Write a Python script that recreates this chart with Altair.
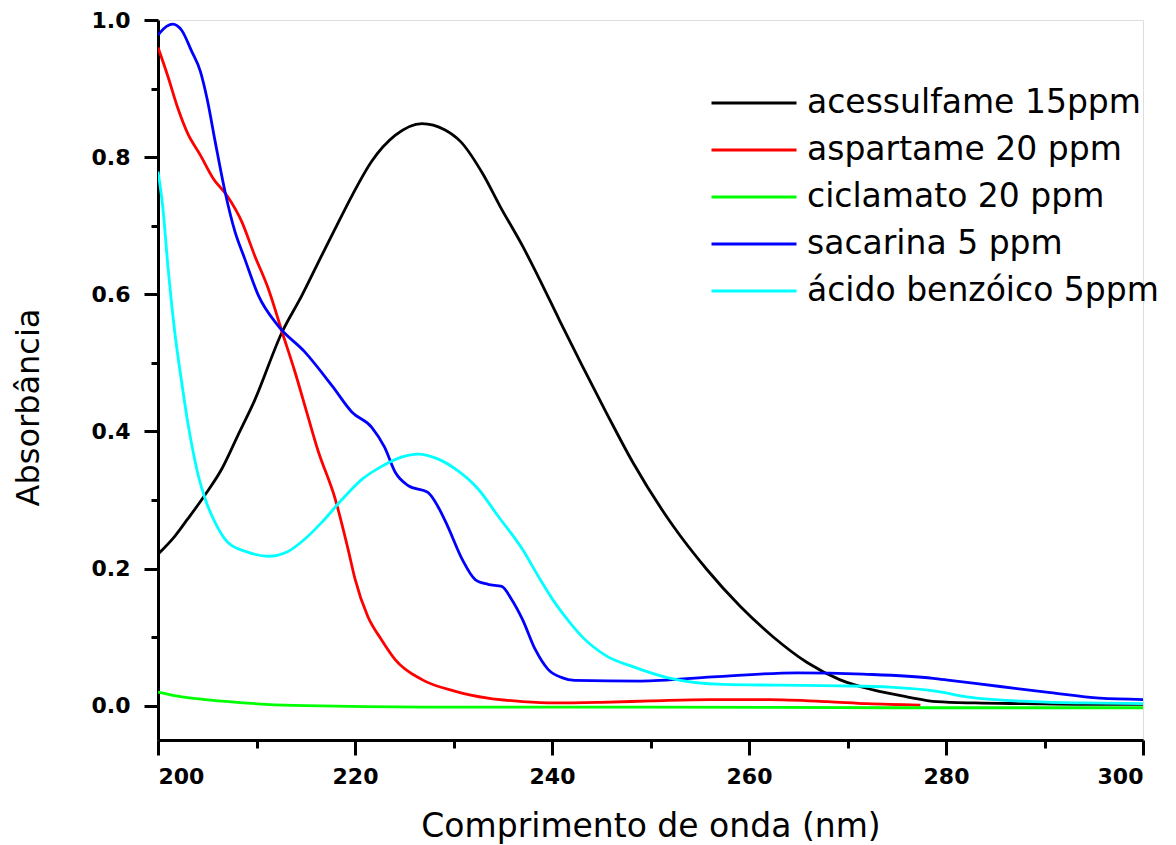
import altair as alt
import pandas as pd

# ---- data ----
names = ["acessulfame 15ppm", "aspartame 20 ppm", "ciclamato 20 ppm",
         "sacarina 5 ppm", "ácido benzóico 5ppm"]
colors = ["#000000", "#ff0000", "#00ff00", "#0000ff", "#00ffff"]

acess_x = [200, 201.7, 203, 204.8, 206.5, 208.1, 209.8, 212.6, 214.6, 216.6, 218.0, 219.7,
           221.7, 224.1, 226.8, 229.1, 230.7, 233.0, 234.7, 237.1, 238.8, 240.8, 243.1, 245.6,
           248.2, 252.3, 255.7, 259.1, 262.4, 265.9, 269.2, 272.6, 276.0, 279.1, 283, 288,
           294, 300]
acess_y = [0.221, 0.247, 0.272, 0.308, 0.346, 0.394, 0.445, 0.545, 0.598, 0.656, 0.696, 0.744,
           0.794, 0.832, 0.849, 0.840, 0.823, 0.775, 0.729, 0.668, 0.620, 0.561, 0.495, 0.425,
           0.355, 0.262, 0.199, 0.145, 0.101, 0.063, 0.038, 0.023, 0.013, 0.006, 0.004, 0.003,
           0.002, 0.002]

asp_x = [200, 201, 202, 203, 204.3, 205.6, 207.0, 208.5, 209.8, 211.2, 212.6, 213.9, 215.2,
         216.2, 218.0, 219.3, 220.0, 221.3, 222.7, 224.1, 226.8, 230.2, 233.5, 237.0, 240.3,
         245, 250, 256, 262, 268, 272, 277.4]
asp_y = [0.960, 0.918, 0.872, 0.835, 0.803, 0.769, 0.744, 0.706, 0.657, 0.608, 0.545, 0.487,
         0.423, 0.374, 0.301, 0.228, 0.185, 0.130, 0.096, 0.067, 0.038, 0.021, 0.011, 0.006,
         0.004, 0.005, 0.007, 0.009, 0.009, 0.006, 0.003, 0.001]

cicl_x = [200, 202, 204.8, 208, 211, 215, 227, 250, 275, 300]
cicl_y = [0.020, 0.014, 0.009, 0.005, 0.002, 0.0, -0.002, -0.002, -0.003, -0.003]

sac_x = [200, 200.9, 201.5, 202.4, 203.4, 204.3, 205.0, 205.8, 206.8, 207.8, 208.8, 210.2,
         212.2, 214.9, 217.7, 219.7, 221.7, 223.0, 224.1, 225.4, 227.4, 228.4, 229.4, 230.9,
         232.2, 233.5, 234.9, 235.9, 237.0, 238.3, 239.6, 241.0, 242.3, 249, 256.3, 264.9,
         271.6, 278.7, 280.4, 285.5, 290.6, 295.6, 300]
sac_y = [0.978, 0.991, 0.994, 0.985, 0.955, 0.925, 0.884, 0.823, 0.750, 0.692, 0.652, 0.598,
         0.554, 0.516, 0.466, 0.428, 0.406, 0.377, 0.340, 0.321, 0.311, 0.291, 0.262, 0.213,
         0.184, 0.177, 0.174, 0.155, 0.126, 0.082, 0.053, 0.041, 0.037, 0.036, 0.042, 0.048,
         0.046, 0.040, 0.037, 0.028, 0.019, 0.011, 0.009]

benz_x = [200, 200.5, 201.0, 201.7, 202.4, 203.0, 203.5, 204.1, 204.8, 205.8, 207.1, 209.1,
          211.2, 213.2, 214.9, 216.6, 218.7, 220.7, 222.7, 224.8, 226.4, 228.4, 230.5, 232.5,
          234.5, 237.0, 238.6, 240.3, 242.0, 243.1, 245.6, 248.2, 251.7, 257.4, 263, 269.2,
          274.3, 279.1, 282.1, 288.8, 294, 300]
benz_y = [0.779, 0.725, 0.642, 0.545, 0.472, 0.415, 0.375, 0.335, 0.301, 0.267, 0.238, 0.224,
          0.218, 0.225, 0.243, 0.267, 0.301, 0.330, 0.349, 0.363, 0.367, 0.360, 0.342, 0.316,
          0.277, 0.228, 0.189, 0.150, 0.118, 0.100, 0.072, 0.057, 0.041, 0.031, 0.030, 0.029,
          0.027, 0.021, 0.013, 0.006, 0.004, 0.003]

x_ticks = [200, 210, 220, 230, 240, 250, 260, 270, 280, 290, 300]
y_ticks = [0.0, 0.1, 0.2, 0.3, 0.4, 0.5, 0.6, 0.7, 0.8, 0.9, 1.0]

series = [(names[0], acess_x, acess_y), (names[1], asp_x, asp_y), (names[2], cicl_x, cicl_y),
          (names[3], sac_x, sac_y), (names[4], benz_x, benz_y)]
rows = []
for order, (name, xs, ys) in enumerate(series):
    for x, y in zip(xs, ys):
        rows.append({"serie": name, "nm": x, "abs": y, "ord": order})
df = pd.DataFrame(rows)

FONT = "DejaVu Sans"

x_axis = alt.Axis(
    values=x_ticks,
    labelExpr="datum.value % 20 === 0 ? datum.label : ''",
    tickSize={"condition": {"test": "datum.value % 20 === 0", "value": 15}, "value": 8},
    tickWidth=3, domainWidth=3, domainColor="black", tickColor="black",
    labelFont=FONT, labelFontSize=22, labelFontWeight="bold", labelColor="black",
    labelPadding=11, grid=False,
    title="Comprimento de onda (nm)", titleFont=FONT, titleFontSize=33,
    titleFontWeight="normal", titleColor="black", titleY=70,
)
y_axis = alt.Axis(
    values=y_ticks, format=".1f",
    labelExpr="round(datum.value * 10) % 2 === 0 ? datum.label : ''",
    tickSize={"condition": {"test": "round(datum.value * 10) % 2 === 0", "value": 14}, "value": 7},
    tickWidth=3, domainWidth=3, domainColor="black", tickColor="black",
    labelFont=FONT, labelFontSize=22, labelFontWeight="bold", labelColor="black",
    labelPadding=14, grid=False,
    title="Absorbância", titleFont=FONT, titleFontSize=32,
    titleFontWeight="normal", titleColor="black", titleX=-113, titleY=387,
)

chart = alt.Chart(df).mark_line(strokeWidth=2.8, clip=True, interpolate="monotone").encode(
    x=alt.X("nm:Q", scale=alt.Scale(domain=[200, 300], nice=False, zero=False), axis=x_axis),
    y=alt.Y("abs:Q", scale=alt.Scale(domain=[-0.05, 1.0], nice=False, zero=False), axis=y_axis),
    color=alt.Color(
        "serie:N",
        scale=alt.Scale(domain=names, range=colors),
        legend=alt.Legend(
            orient="none", legendX=573, legendY=60, title=None,
            symbolType="M-2,0H2", symbolSize=1806, symbolStrokeWidth=3,
            labelFont=FONT, labelFontSize=33, labelColor="black", labelOffset=30,
            rowPadding=7, padding=0, labelLimit=600,
        ),
    ),
    detail="ord:O",
).properties(
    width=985, height=720,
    padding={"left": 158, "top": 20, "right": 33, "bottom": 105},
    autosize=alt.AutoSizeParams(type="none"),
).configure_view(stroke=None).configure(background="white")

chart.save("out.html", embed_options={"renderer": "svg", "actions": False})
